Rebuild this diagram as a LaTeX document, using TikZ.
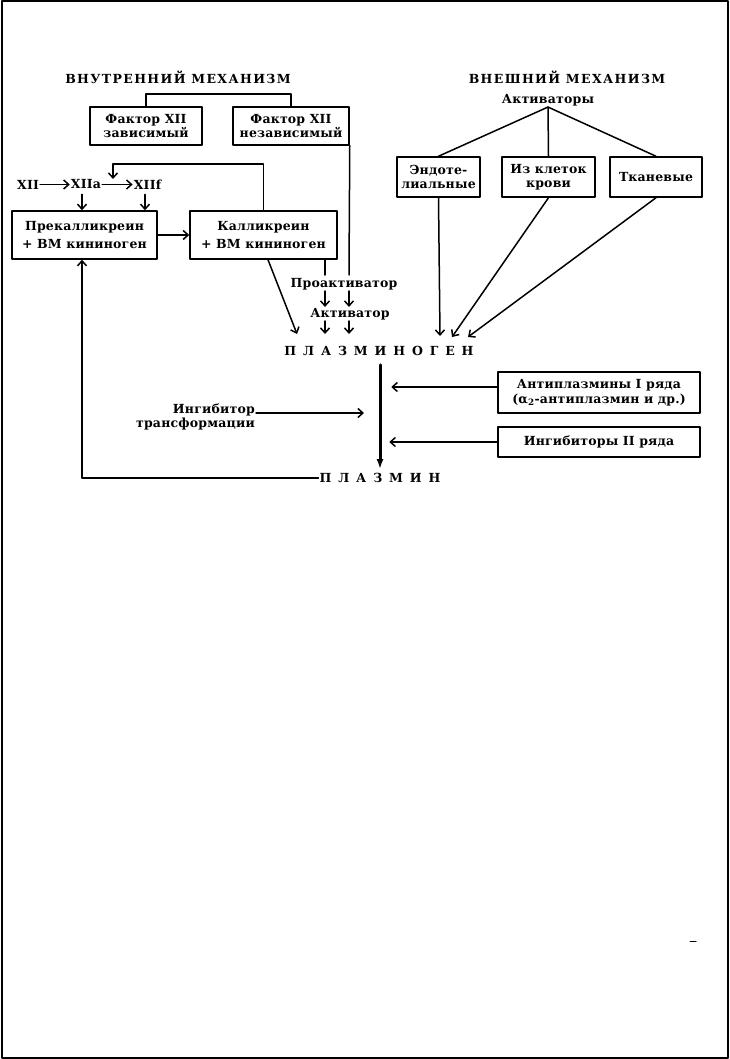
\documentclass[tikz,border=0pt]{standalone}
\usepackage{fontspec}
\setmainfont{DejaVu Serif}[LetterSpace=1.5]
\newfontfamily\widefont{DejaVu Serif}[LetterSpace=11]
\newfontfamily\spacedfont{DejaVu Serif}[LetterSpace=55]
\usetikzlibrary{arrows.meta,positioning}

\begin{document}
\begin{tikzpicture}[x=1pt,y=-1pt,line cap=round,line join=round,
  every node/.style={font=\fontsize{12.5}{14.5}\selectfont\bfseries,inner sep=1pt},
  box/.style={draw,line width=1.5pt,align=center,inner sep=0pt},
  ln/.style={line width=1.5pt},
  arr/.style={line width=1.5pt,-{Straight Barb[length=5pt,width=9pt]}},
  bigarr/.style={line width=3pt,-{Latex[length=10pt,width=7pt]}}]
  \useasboundingbox (0,0) rectangle (730,1059);
  \draw[line width=2pt] (1.5,1.5) rectangle (727.5,1057.5);

  % headings
  \node (inner) at (178,77) {\widefont ВНУТРЕННИЙ МЕХАНИЗМ};
  \node (outer) at (567,77) {\widefont ВНЕШНИЙ МЕХАНИЗМ};

  % boxes
  \node[box,minimum width=112pt,minimum height=38pt] (dep) at (146,126) {Фактор XII\\зависимый};
  \node[box,minimum width=116pt,minimum height=38pt] (indep) at (291,126) {Фактор XII\\независимый};
  \node[box,minimum width=145pt,minimum height=48pt] (prekal) at (84.5,235) {Прекалликреин\\[4pt]+ ВМ кининоген};
  \node[box,minimum width=147pt,minimum height=48pt] (kal) at (263.5,235) {Калликреин\\[4pt]+ ВМ кининоген};
  \node[box,minimum width=83pt,minimum height=40pt] (endo) at (438.5,177) {Эндоте-\\лиальные};
  \node[box,minimum width=93pt,minimum height=40pt] (blood) at (548.5,177) {Из клеток\\крови};
  \node[box,minimum width=92pt,minimum height=40pt] (tissue) at (656,177) {Тканевые};
  \node[box,minimum width=202pt,minimum height=41pt] (anti1) at (599,392.5) {Антиплазмины I ряда\\(α\textsubscript{2}-антиплазмин и др.)};
  \node[box,minimum width=202pt,minimum height=30pt] (anti2) at (599,442) {Ингибиторы II ряда};

  % free labels
  \node (xii) at (28,184.5) {XII};
  \node (xiia) at (86,184.5) {XIIa};
  \node (xiif) at (147.5,184.5) {XIIf};
  \node (act) at (548,100) {Активаторы};
  \node (proact) at (344,284) {Проактиватор};
  \node (activ) at (350,314) {Активатор};
  \node (plg) at (379,351) {\spacedfont ПЛАЗМИНОГЕН};
  \node (pl) at (380,478) {\spacedfont ПЛАЗМИН};
  \node[align=right,anchor=east] (inh) at (256,417) {Ингибитор\\трансформации};

  \coordinate (fbtop) at (113,164);
  \coordinate (fbend) at (113,179);
  \coordinate (kalout) at (325,275);
  \coordinate (indepout) at (349,275);
  \coordinate (plgk) at (297,334);
  \coordinate (plgendo) at (440,336);
  \coordinate (plgblood) at (452,337);
  \coordinate (plgtissue) at (468,337);
  \coordinate (plcorner) at (82,478);

  % internal pathway
  \draw[ln] (dep.north) -- ++(0,-12) -| (indep.north);
  \draw[arr] (xii) -- (xiia);
  \draw[arr] (xiia) -- (xiif);
  \draw[arr,shorten <=4pt] ([xshift=-4pt]xiia.south) -- ([xshift=-4pt]xiia.south |- prekal.north);
  \draw[arr,shorten <=4pt] ([xshift=-2.5pt]xiif.south) -- ([xshift=-2.5pt]xiif.south |- prekal.north);
  \draw[arr] (kal.north) |- (fbtop) -- (fbend);
  \draw[arr] (prekal) -- (kal);
  \draw[arr] ([xshift=4.5pt]kal.south) -- (plgk);
  \draw[ln] (kalout |- kal.south) -- (kalout);
  \draw[ln] (indep.south east) -- (indepout);
  \draw[arr] (kalout |- proact.south) -- (kalout |- activ.north);
  \draw[arr] (indepout |- proact.south) -- (indepout |- activ.north);
  \draw[arr] (kalout |- activ.south) -- (kalout |- plgk);
  \draw[arr] (indepout |- activ.south) -- (indepout |- plgk);

  % external pathway
  \draw[ln] (act.south) -- (endo.north);
  \draw[ln] (act.south) -- (blood.north);
  \draw[ln] (act.south) -- (tissue.north);
  \draw[arr] (endo.south) -- (plgendo);
  \draw[arr] (blood.south) -- (plgblood);
  \draw[arr] (tissue.south) -- (plgtissue);

  % conversion and inhibitors
  \draw[bigarr,shorten <=8pt,shorten >=3pt] ([xshift=1pt]plg.south) -- (pl.north);
  \draw[arr] ([yshift=5.5pt]anti1.west) -- ++(-106,0);
  \draw[arr] (anti2.west) -- ++(-108,0);
  \draw[arr] ([yshift=4pt]inh.east) -- ++(108,0);
  \draw[arr] (pl.west) -- (plcorner) -- (plcorner |- prekal.south);

  \draw[line width=1pt] (690,941) -- (696,941);
\end{tikzpicture}
\end{document}
